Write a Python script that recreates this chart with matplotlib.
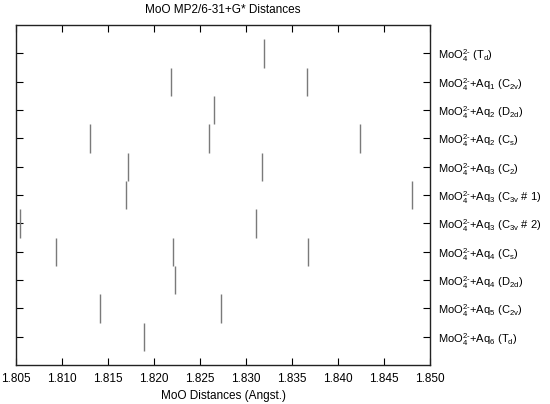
import matplotlib
matplotlib.use("Agg")
import matplotlib.pyplot as plt

plt.rcParams['font.family'] = ['Liberation Sans', 'DejaVu Sans']
plt.rcParams['mathtext.fontset'] = 'custom'
plt.rcParams['mathtext.rm'] = 'Liberation Sans'
plt.rcParams['mathtext.it'] = 'Liberation Sans:italic'
plt.rcParams['mathtext.bf'] = 'Liberation Sans:bold'

# Structures (top to bottom) and their Mo-O distances (Angstrom)
labels = [
    r'MoO$_4^{\text{2-}}$ (T$_\mathrm{d}$)',
    r'MoO$_4^{\text{2-}}$+Aq$_1$ (C$_\mathrm{2v}$)',
    r'MoO$_4^{\text{2-}}$+Aq$_2$ (D$_\mathrm{2d}$)',
    r'MoO$_4^{\text{2-}}$+Aq$_2$ (C$_\mathrm{s}$)',
    r'MoO$_4^{\text{2-}}$+Aq$_3$ (C$_2$)',
    r'MoO$_4^{\text{2-}}$+Aq$_3$ (C$_\mathrm{3v}$ # 1)',
    r'MoO$_4^{\text{2-}}$+Aq$_3$ (C$_\mathrm{3v}$ # 2)',
    r'MoO$_4^{\text{2-}}$+Aq$_4$ (C$_\mathrm{s}$)',
    r'MoO$_4^{\text{2-}}$+Aq$_4$ (D$_\mathrm{2d}$)',
    r'MoO$_4^{\text{2-}}$+Aq$_5$ (C$_\mathrm{2v}$)',
    r'MoO$_4^{\text{2-}}$+Aq$_6$ (T$_\mathrm{d}$)',
]

dist_td = [1.8320]
dist_aq1_c2v = [1.8218, 1.8366]
dist_aq2_d2d = [1.8265]
dist_aq2_cs = [1.8130, 1.8260, 1.8424]
dist_aq3_c2 = [1.8172, 1.8317]
dist_aq3_c3v1 = [1.8170, 1.8480]
dist_aq3_c3v2 = [1.8054, 1.8311]
dist_aq4_cs = [1.8094, 1.8221, 1.8367]
dist_aq4_d2d = [1.8223]
dist_aq5_c2v = [1.8141, 1.8273]
dist_aq6_td = [1.8189]

distances = [dist_td, dist_aq1_c2v, dist_aq2_d2d, dist_aq2_cs, dist_aq3_c2,
             dist_aq3_c3v1, dist_aq3_c3v2, dist_aq4_cs, dist_aq4_d2d,
             dist_aq5_c2v, dist_aq6_td]

xticks = [1.805, 1.810, 1.815, 1.820, 1.825, 1.830, 1.835, 1.840, 1.845, 1.850]

fig = plt.figure(figsize=(5.5, 4.04), dpi=100)
ax = fig.add_axes([0.029, 0.0965, 0.753, 0.8415])

for i, ds in enumerate(distances):
    row = i + 1
    ax.vlines(ds, row - 0.5, row + 0.5, colors='#7a7a7a', linewidth=1.0)

ax.set_xlim(1.805, 1.850)
ax.set_ylim(12, 0)
ax.set_xticks(xticks)
ax.set_xticklabels([f'{t:.3f}' for t in xticks], fontsize=8.5)
ax.set_yticks(range(1, len(labels) + 1))
ax.set_yticklabels(labels, fontsize=8)
ax.yaxis.tick_right()
ax.tick_params(axis='both', direction='in', length=5, width=0.8,
               top=True, bottom=True, left=True, right=True,
               labelleft=False, labelright=True)
ax.tick_params(axis='x', pad=6)
ax.tick_params(axis='y', pad=6)
for s in ax.spines.values():
    s.set_linewidth(1.0)
    s.set_color('#222222')

ax.set_xlabel('MoO Distances (Angst.)', fontsize=8.5, labelpad=3)
ax.set_title('MoO MP2/6-31+G* Distances', fontsize=8.5, pad=9)

fig.savefig('out.png', dpi=100)
